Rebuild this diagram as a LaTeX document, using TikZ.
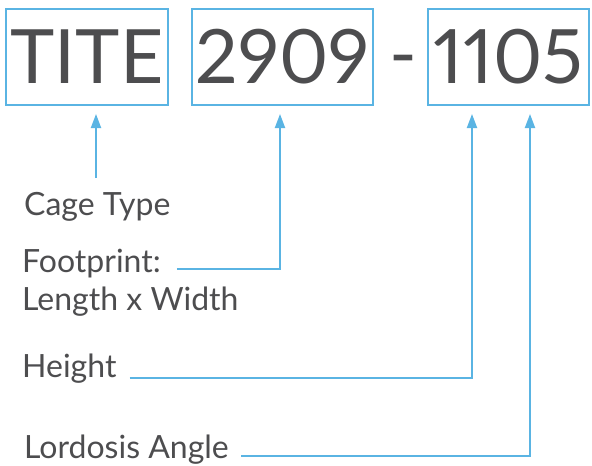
\documentclass[tikz,border=0pt]{standalone}
\usepackage{fontspec}
\setmainfont[Numbers=Proportional]{Lato}
\usetikzlibrary{arrows.meta}
\definecolor{txt}{HTML}{4D4D4F}
\definecolor{blu}{HTML}{5AB4E3}
\begin{document}
\begin{tikzpicture}[x=1pt,y=-1pt,
  big/.style={text=txt,font=\fontsize{75}{75}\selectfont},
  codebox/.style={draw=blu,line width=2pt,minimum height=96pt,inner sep=0pt,big},
  lbl/.style={anchor=base west,inner sep=0pt,text=txt,font=\fontsize{32}{34}\selectfont},
  arr/.style={draw=blu,line width=2pt,-{Triangle[width=10pt,length=14pt]}}]
\useasboundingbox (0,0) rectangle (592,466);
\node[codebox,minimum width=162pt] (b1) at (87,57) {TITE};
\node[codebox,minimum width=181pt] (b2) at (282.5,57) {2909};
\node[inner sep=0pt,anchor=base,big] (dash) at (403,80) {-};
\node[codebox,minimum width=161pt] (b3) at (508.5,57) {1105};
\node[lbl] (cage) at (24,215) {Cage Type};
\node[lbl] (foot) at (22,272) {Footprint:};
\node[lbl] (lw) at (22,310) {Length x Width};
\node[lbl] (hgt) at (22,377) {Height};
\node[lbl] (lord) at (24,458) {Lordosis Angle};
\coordinate (c1) at (96,178);
\draw[arr] (c1) -- (c1 |- 0,114);
\draw[arr] ([xshift=16pt,yshift=3pt]foot.base east) -| (280,114);
\draw[arr] ([xshift=13pt,yshift=-1pt]hgt.base east) -| (472,114);
\draw[arr] ([xshift=12pt,yshift=2pt]lord.base east) -| (530,114);
\end{tikzpicture}
\end{document}
